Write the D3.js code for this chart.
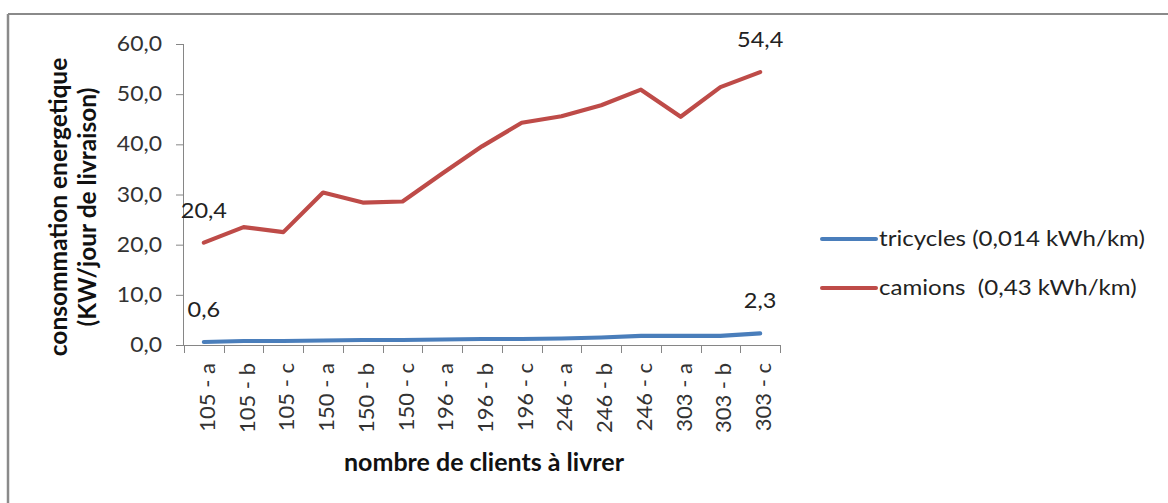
<!DOCTYPE html>
<html>
<head>
<meta charset="utf-8">
<script src="https://cdn.jsdelivr.net/npm/d3@7"></script>
<style>
  html, body { margin: 0; padding: 0; background: #fff; }
  svg { display: block; }
  text { font-family: Lato, "Open Sans", sans-serif; }
</style>
</head>
<body>
<svg id="chart" width="1168" height="503"></svg>
<script>
// Categories: number of clients and scenario
const categories = ["105 - a","105 - b","105 - c","150 - a","150 - b","150 - c",
                    "196 - a","196 - b","196 - c","246 - a","246 - b","246 - c",
                    "303 - a","303 - b","303 - c"];
// Daily energy consumption per delivery day
const tricycles = [0.6, 0.8, 0.8, 0.9, 1.0, 1.0, 1.1, 1.2, 1.2, 1.3, 1.5, 1.8, 1.8, 1.8, 2.3];
const camions   = [20.4, 23.5, 22.5, 30.4, 28.4, 28.6, 34.2, 39.6, 44.3, 45.6, 47.8, 50.9, 45.5, 51.4, 54.4];
const yTicks = [0, 10, 20, 30, 40, 50, 60];
const seriesNames = ["tricycles (0,014 kWh/km)", "camions  (0,43 kWh/km)"];
const seriesColors = ["#4a7ebb", "#be4b48"];

const svg = d3.select("#chart");
const fmt = v => d3.format(".1f")(v).replace(".", ",");
const SX = 1.12; // horizontal widening of upright text

// Outer frame (top and left edges)
svg.append("line").attr("x1", 8).attr("x2", 1168).attr("y1", 14).attr("y2", 14)
  .attr("stroke", "#8a8a8a").attr("stroke-width", 2);
svg.append("line").attr("x1", 8).attr("x2", 8).attr("y1", 14).attr("y2", 503)
  .attr("stroke", "#8a8a8a").attr("stroke-width", 2.5);

const plotL = 184, plotR = 780, plotT = 44, plotB = 345;

const x = d3.scaleBand().domain(categories).range([plotL, plotR]);
const y = d3.scaleLinear().domain([0, 60]).range([plotB, plotT]);
const cx = c => x(c) + x.bandwidth() / 2;

// Y axis
const yAxis = svg.append("g").attr("transform", `translate(${plotL},0)`)
  .call(d3.axisLeft(y).tickValues(yTicks).tickFormat(fmt).tickSize(8).tickPadding(14));
yAxis.select(".domain").attr("stroke", "#868686").attr("d", `M-0.5,${plotT}V${plotB}`);
yAxis.selectAll(".tick line").attr("stroke", "#868686");
yAxis.selectAll(".tick text")
  .attr("fill", "#333")
  .style("font-size", "20.5px")
  .style("font-family", "Lato, 'Open Sans', sans-serif")
  .attr("x", -22 / SX)
  .attr("transform", `scale(${SX},1)`);

// X axis baseline and band boundary ticks
const xg = svg.append("g");
xg.append("line").attr("x1", plotL).attr("x2", plotR).attr("y1", plotB + 0.5).attr("y2", plotB + 0.5)
  .attr("stroke", "#868686");
const bounds = categories.map(c => x(c)).concat([plotR]);
xg.selectAll("line.tk").data(bounds).join("line").attr("class", "tk")
  .attr("x1", d => Math.round(d) + 0.5).attr("x2", d => Math.round(d) + 0.5)
  .attr("y1", plotB).attr("y2", plotB + 8).attr("stroke", "#868686");
xg.selectAll("text.cat").data(categories).join("text").attr("class", "cat")
  .attr("transform", d => `translate(${cx(d) + 11},${plotB + 18}) rotate(-90)`)
  .attr("text-anchor", "end")
  .attr("fill", "#333").style("font-size", "22px")
  .text(d => d);

// Lines
const line = d3.line().x((d, i) => cx(categories[i])).y(d => y(d));
[tricycles, camions].forEach((s, k) => {
  svg.append("path").datum(s).attr("d", line)
    .attr("fill", "none").attr("stroke", seriesColors[k]).attr("stroke-width", 4.2)
    .attr("stroke-linejoin", "round").attr("stroke-linecap", "round");
});

// End-point value labels
const labels = [
  { s: camions, i: 0 },
  { s: camions, i: camions.length - 1 },
  { s: tricycles, i: 0 },
  { s: tricycles, i: tricycles.length - 1 }
];
labels.forEach(l => {
  svg.append("g")
    .attr("transform", `translate(${cx(categories[l.i])},${y(l.s[l.i]) - 25})`)
    .append("text")
    .attr("transform", `scale(${SX},1)`)
    .attr("text-anchor", "middle")
    .attr("fill", "#222").style("font-size", "21px")
    .text(fmt(l.s[l.i]));
});

// Axis titles
svg.append("text").attr("transform", "translate(67,207) rotate(-90)")
  .attr("text-anchor", "middle").attr("font-weight", "bold").attr("fill", "#111")
  .style("font-size", "24.5px").text("consommation energetique");
svg.append("text").attr("transform", "translate(96,207) rotate(-90)")
  .attr("text-anchor", "middle").attr("font-weight", "bold").attr("fill", "#111")
  .style("font-size", "24.5px").text("(KW/jour de livraison)");
svg.append("text").attr("x", 484).attr("y", 471)
  .attr("text-anchor", "middle").attr("font-weight", "bold").attr("fill", "#111")
  .style("font-size", "25px").text("nombre de clients à livrer");

// Legend
const lg = svg.append("g");
seriesNames.forEach((n, k) => {
  const ly = 239 + k * 49;
  lg.append("line").attr("x1", 822).attr("x2", 876).attr("y1", ly).attr("y2", ly)
    .attr("stroke", seriesColors[k]).attr("stroke-width", 4).attr("stroke-linecap", "round");
  lg.append("g").attr("transform", `translate(879,${ly + 7})`)
    .append("text")
    .attr("transform", `scale(${SX},1)`)
    .attr("fill", "#222").style("font-size", "21.5px").style("white-space", "pre")
    .text(n);
});
</script>
</body>
</html>
